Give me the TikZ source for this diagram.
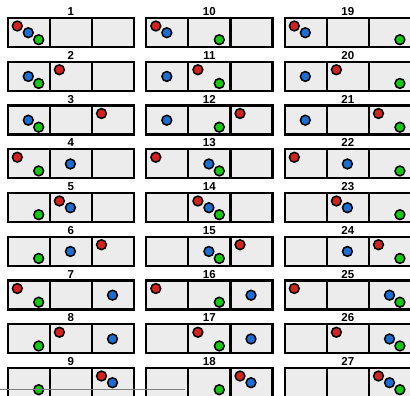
\documentclass[tikz,border=0pt]{standalone}
\usepackage{fontspec}
\setmainfont{Liberation Sans}
\usetikzlibrary{positioning, calc}
\definecolor{ballred}{RGB}{210,35,35}
\definecolor{ballblue}{RGB}{30,110,210}
\definecolor{ballgreen}{RGB}{20,200,20}
\definecolor{cellgray}{RGB}{236,236,236}
\tikzstyle{cell} = [rectangle, draw, fill=cellgray, line width=2.2pt, minimum width=42.1pt, minimum height=29pt, inner sep=0pt, outer sep=0pt, anchor=north west]
\tikzstyle{ball} = [circle, draw, line width=1.5pt, minimum size=9.8pt, inner sep=0pt]
\tikzstyle{number} = [font=\bfseries\fontsize{11.5}{11.5}\selectfont, inner sep=0pt, anchor=base]

\begin{document}
\begin{tikzpicture}[x=1pt, y=-1pt]
  \useasboundingbox (0,0) rectangle (410,396);

  % boxes 1..27: red is the lowest digit, then blue, then green
  \foreach \n in {1,...,27} {
    \pgfmathtruncatemacro{\col}{(\n-1)/9}
    \pgfmathtruncatemacro{\row}{mod(\n-1,9)}
    \pgfmathtruncatemacro{\rpos}{mod(\n-1,3)}
    \pgfmathtruncatemacro{\bpos}{mod(int((\n-1)/3),3)}
    \pgfmathsetmacro{\bx}{7.7+138.5*\col}
    \pgfmathsetmacro{\by}{18+43.75*\row}
    \foreach \k in {0,1,2}
      \node[cell] (c\n-\k) at (\bx+42.1*\k, \by) {};
    \node[number] (n\n) at ($(c\n-1.north)+(0,-2.5)$) {\n};
    \node[ball, fill=ballred] (r\n) at ($(c\n-\rpos.north west)+(9.6,8)$) {};
    \node[ball, fill=ballblue] (b\n) at ($(c\n-\bpos.north west)+(20.6,14.7)$) {};
    \node[ball, fill=ballgreen] (g\n) at ($(c\n-\col.north west)+(31,21.7)$) {};
  }

  \coordinate (lineL) at (0,389);
  \coordinate (lineR) at (185,389);
  \draw[gray, line width=0.9pt] (lineL) -- (lineR);
\end{tikzpicture}
\end{document}
